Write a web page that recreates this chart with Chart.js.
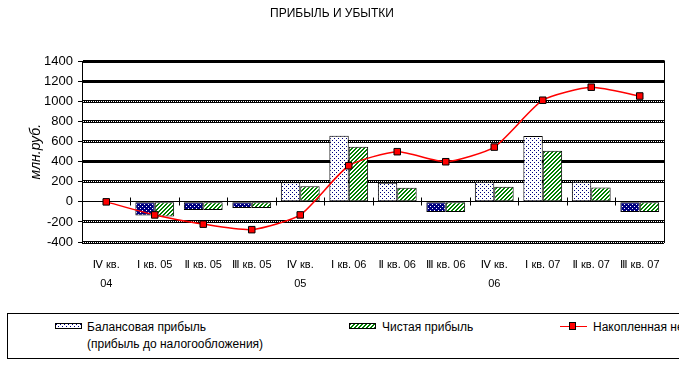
<!DOCTYPE html>
<html>
<head>
<meta charset="utf-8">
<script src="https://cdn.jsdelivr.net/npm/chart.js@4.4.1/dist/chart.umd.min.js"></script>
<style>
  html, body { margin: 0; padding: 0; background: #fff; }
  body { width: 679px; height: 372px; overflow: hidden; position: relative;
         font-family: "Liberation Sans", Arial, sans-serif; }
  #wrap { position: absolute; left: 0; top: 0; width: 679px; height: 372px; }
  #legend { position: absolute; left: 7px; top: 313px; width: 720px; height: 44px;
            border: 1px solid #000; background: #fff; font-size: 12px; color: #000; }
  #legend .sw { position: absolute; top: 9px; width: 25px; height: 4px; border: 1px solid #000; }
  #legend .tx { position: absolute; top: 5px; line-height: 17px; white-space: nowrap; }
  #legend .ln { position: absolute; top: 12px; width: 27px; height: 1px; background: #f00; }
  #legend .mk { position: absolute; top: 8px; width: 5px; height: 6px; background: #f00; border: 1px solid #000; }
</style>
</head>
<body>
<div id="wrap"><canvas id="c" width="679" height="372"></canvas></div>
<div id="legend">
  <div class="sw" id="sw1" style="left:47px"></div>
  <div class="tx" style="left:79px">Балансовая прибыль<br>(прибыль до налогообложения)</div>
  <div class="sw" id="sw2" style="left:341px"></div>
  <div class="tx" style="left:374px">Чистая прибыль</div>
  <div class="ln" style="left:552px"></div>
  <div class="mk" style="left:561px"></div>
  <div class="tx" style="left:585px">Накопленная нераспределённая прибыль</div>
</div>
<script>
const quarters = [["Ⅳ кв.", "04"], "Ⅰ кв. 05", "Ⅱ кв. 05", "Ⅲ кв. 05", ["Ⅳ кв.", "05"], "Ⅰ кв. 06",
                  "Ⅱ кв. 06", "Ⅲ кв. 06", ["Ⅳ кв.", "06"], "Ⅰ кв. 07", "Ⅱ кв. 07", "Ⅲ кв. 07"];
const balanceProfit = [0, -135, -80, -60, 195, 660, 190, -100, 200, 657, 200, -100];
const netProfit     = [0, -145, -80, -62, 155, 550, 140, -100, 150, 510, 143, -100];
const accumulated   = [0, -130, -222, -277, -130, 360, 500, 400, 546, 1013, 1143, 1055];
const yTicks = { min: -400, max: 1400, step: 200 };
const dottedLines = [1000, 800, 600, 200, -200, -400];

const FONT = '"Liberation Sans", Arial, "DejaVu Sans", sans-serif';
const NAVY = '#000080', GREEN = '#008000', RED = '#ff0000';

const canvas = document.getElementById('c');
const ctx0 = canvas.getContext('2d');

function tile(bg, fg, kind) {
  const t = document.createElement('canvas');
  t.width = 4; t.height = 4;
  const g = t.getContext('2d');
  g.fillStyle = bg; g.fillRect(0, 0, 4, 4);
  g.fillStyle = fg;
  if (kind === 'dots') {
    g.fillRect(0, 0, 1, 1); g.fillRect(2, 2, 1, 1);
  } else {
    for (let i = 0; i < 4; i++) {
      g.fillRect(3 - i, i, 1, 1);
      g.fillRect((4 - i) % 4, i, 1, 1);
    }
  }
  return t;
}

const dotsPos = ctx0.createPattern(tile('#fff', NAVY, 'dots'), 'repeat');
const dotsNeg = ctx0.createPattern(tile(NAVY, '#fff', 'dots'), 'repeat');
const stripePos = ctx0.createPattern(tile('#fff', GREEN, 'stripes'), 'repeat');
const stripeNeg = ctx0.createPattern(tile(GREEN, '#fff', 'stripes'), 'repeat');

document.getElementById('sw1').style.background = 'url(' + tile('#fff', NAVY, 'dots').toDataURL() + ')';
document.getElementById('sw2').style.background = 'url(' + tile('#fff', GREEN, 'stripes').toDataURL() + ')';

const axisDecor = {
  id: 'axisDecor',
  beforeDatasetsDraw(chart) {
    const { ctx, chartArea: a, scales: { x, y } } = chart;
    ctx.save();
    // white dots inside the double grid lines
    ctx.strokeStyle = '#fff';
    ctx.lineWidth = 1;
    ctx.setLineDash([1, 1]);
    dottedLines.forEach(v => {
      const py = Math.round(y.getPixelForValue(v) - 1.5) + 1.5;
      ctx.beginPath();
      ctx.moveTo(a.left + 1, py);
      ctx.lineTo(a.right, py);
      ctx.stroke();
    });
    // category axis crossing at zero, with tick marks between quarters
    ctx.setLineDash([]);
    ctx.strokeStyle = '#000';
    const y0 = Math.round(y.getPixelForValue(0) - 0.5) + 0.5;
    for (let i = 1; i < quarters.length; i++) {
      const px = Math.round((x.getPixelForValue(i - 1) + x.getPixelForValue(i)) / 2 - 0.5) + 0.5;
      ctx.beginPath();
      ctx.moveTo(px, y0 - 4);
      ctx.lineTo(px, y0 + 4);
      ctx.stroke();
    }
    const rx = Math.round(a.right - 0.5) + 0.5;
    ctx.beginPath();
    ctx.moveTo(rx, a.top - 1);
    ctx.lineTo(rx, a.bottom + 1);
    ctx.stroke();
    ctx.restore();
  }
};

Chart.defaults.font.family = FONT;
Chart.defaults.color = '#000';

new Chart(canvas, {
  type: 'bar',
  data: {
    labels: quarters,
    datasets: [
      {
        type: 'line',
        label: 'Накопленная нераспределённая прибыль',
        data: accumulated,
        order: 0,
        borderColor: RED,
        borderWidth: 1.5,
        tension: 0.2,
        pointStyle: 'rect',
        pointRadius: 4.6,
        pointBackgroundColor: RED,
        pointBorderColor: '#000',
        pointBorderWidth: 1
      },
      {
        label: 'Балансовая прибыль (прибыль до налогообложения)',
        data: balanceProfit,
        order: 1,
        backgroundColor: c => (c.raw < 0 ? dotsNeg : dotsPos),
        borderColor: '#000',
        borderWidth: 1,
        borderSkipped: false,
        barPercentage: 1,
        categoryPercentage: 0.8
      },
      {
        label: 'Чистая прибыль',
        data: netProfit,
        order: 1,
        backgroundColor: c => (c.raw < 0 ? stripeNeg : stripePos),
        borderColor: '#000',
        borderWidth: 1,
        borderSkipped: false,
        barPercentage: 1,
        categoryPercentage: 0.8
      }
    ]
  },
  options: {
    responsive: false,
    animation: false,
    layout: { padding: { left: 0, right: 15, top: 0, bottom: 80 } },
    plugins: {
      legend: { display: false },
      tooltip: { enabled: false },
      title: {
        display: true,
        text: 'ПРИБЫЛЬ И УБЫТКИ',
        color: '#000',
        font: { size: 12, weight: 'normal' },
        padding: { top: 6, bottom: 41 }
      }
    },
    scales: {
      x: {
        grid: { display: false, drawTicks: false },
        border: { display: false },
        afterFit: s => { s.height = 50; },
        ticks: {
          autoSkip: false,
          maxRotation: 0,
          padding: 13,
          font: { size: 11, lineHeight: 1.75 }
        }
      },
      y: {
        min: yTicks.min,
        max: yTicks.max,
        afterFit: s => { s.width = 82; },
        border: { display: true, color: '#000', width: 1 },
        grid: {
          color: '#000',
          lineWidth: c => (c.tick && c.tick.value === 0 ? 1 : 3),
          drawTicks: true,
          tickLength: 4,
          tickWidth: 1,
          tickColor: '#000'
        },
        ticks: {
          stepSize: yTicks.step,
          autoSkip: false,
          padding: 5,
          font: { size: 13 },
          callback: v => String(v)
        },
        title: {
          display: true,
          text: 'млн.руб.',
          font: { size: 14, style: 'italic' },
          padding: { top: 28, bottom: 0 }
        }
      }
    }
  },
  plugins: [axisDecor]
});
</script>
</body>
</html>
